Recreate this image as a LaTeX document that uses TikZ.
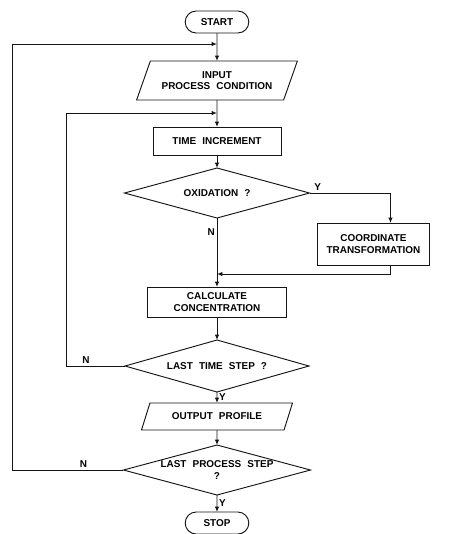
\documentclass[tikz,border=0pt]{standalone}
\usepackage{fontspec}
\newfontfamily\chartfont{Liberation Sans}[WordSpace=2.2]
\usepackage{tikz}
\usetikzlibrary{arrows.meta,positioning,shapes.geometric,shapes.misc,calc}
\definecolor{inkblack}{HTML}{151515}
\tikzset{
  flowtext/.style={font=\chartfont\bfseries\fontsize{8.5}{10}\selectfont},
  termnode/.style={rounded rectangle, draw=inkblack, line width=0.8pt, outer sep=0pt, flowtext, minimum width=2.05cm, minimum height=0.66cm, inner sep=2pt},
  ionode/.style={trapezium, trapezium stretches=true, trapezium left angle=63, trapezium right angle=117, draw=inkblack, line width=0.8pt, outer sep=0pt, align=center, flowtext, inner sep=2pt},
  procnode/.style={rectangle, draw=inkblack, line width=0.8pt, outer sep=0pt, align=center, flowtext, inner sep=2pt},
  testnode/.style={diamond, aspect=3.7, draw=inkblack, line width=0.8pt, outer sep=0pt, align=center, flowtext, inner sep=-0.2cm},
  edge/.style={-{Latex[length=1.6mm, width=1.3mm]}, line width=0.8pt, draw=inkblack},
  yn/.style={flowtext, inner sep=1.5pt}
}
\begin{document}
\begin{tikzpicture}[node distance=0.5cm]
  \useasboundingbox (-6.51,0.66) rectangle (7.2,-15.36);
  \node[termnode] (start) at (0,0) {START};
  \coordinate[below=0.33cm of start] (join1);
  \node[ionode, minimum height=1.17cm, minimum width=4.83cm, below=0.84cm of start] (input) {INPUT\\PROCESS CONDITION};
  \coordinate[below=0.39cm of input] (join2);
  \node[procnode, minimum width=3.84cm, minimum height=0.84cm, below=0.81cm of input] (tinc) {TIME INCREMENT};
  \node[testnode, minimum width=5.55cm, minimum height=1.5cm, below=0.39cm of tinc] (oxid) {OXIDATION ?};
  \coordinate[right=2.43cm of oxid.east] (yturn);
  \node[procnode, minimum width=3.36cm, minimum height=1.26cm, below right=0.9cm and 0.24cm of oxid.east] (coord) {COORDINATE\\TRANSFORMATION};
  \node[procnode, minimum width=4.17cm, minimum height=0.9cm, below=2.07cm of oxid] (conc) {CALCULATE\\CONCENTRATION};
  \coordinate (rejoin) at ($(oxid.south |- coord.south)+(0,-0.27)$);
  \node[testnode, minimum width=5.52cm, minimum height=1.56cm, below=0.69cm of conc] (lasttime) {LAST TIME STEP ?};
  \node[ionode, minimum height=0.81cm, minimum width=4.56cm, below=0.33cm of lasttime] (output) {OUTPUT PROFILE};
  \node[testnode, minimum width=5.61cm, minimum height=1.5cm, below=0.45cm of output] (lastproc) {LAST PROCESS STEP\\?};
  \node[termnode, below=0.51cm of lastproc] (stop) {STOP};
  \coordinate[left=4.53cm of join2] (loop2);
  \coordinate[left=6.15cm of join1] (loop1);
  \draw[edge] (start) -- (input);
  \draw[edge] (input) -- (tinc);
  \draw[edge] (tinc) -- (oxid);
  \draw[edge] (oxid) -- node[yn, left, pos=0.2] {N} (conc);
  \draw[edge] (oxid.east) -- node[yn, above, pos=0.1] {Y} (yturn) -- (yturn |- coord.north);
  \draw[edge] (yturn |- coord.south) -- (yturn |- rejoin) -- (rejoin);
  \draw[edge] (conc) -- (lasttime);
  \draw[edge] (lasttime) -- node[yn, right] {Y} (output);
  \draw[edge] (output) -- (lastproc);
  \draw[edge] (lastproc) -- node[yn, right] {Y} (stop);
  \draw[edge] (lasttime.west) -| node[yn, above, pos=0.33] {N} (loop2) -- (join2);
  \draw[edge] (lastproc.west) -| node[yn, above, pos=0.18] {N} (loop1) -- (join1);
\end{tikzpicture}
\end{document}
